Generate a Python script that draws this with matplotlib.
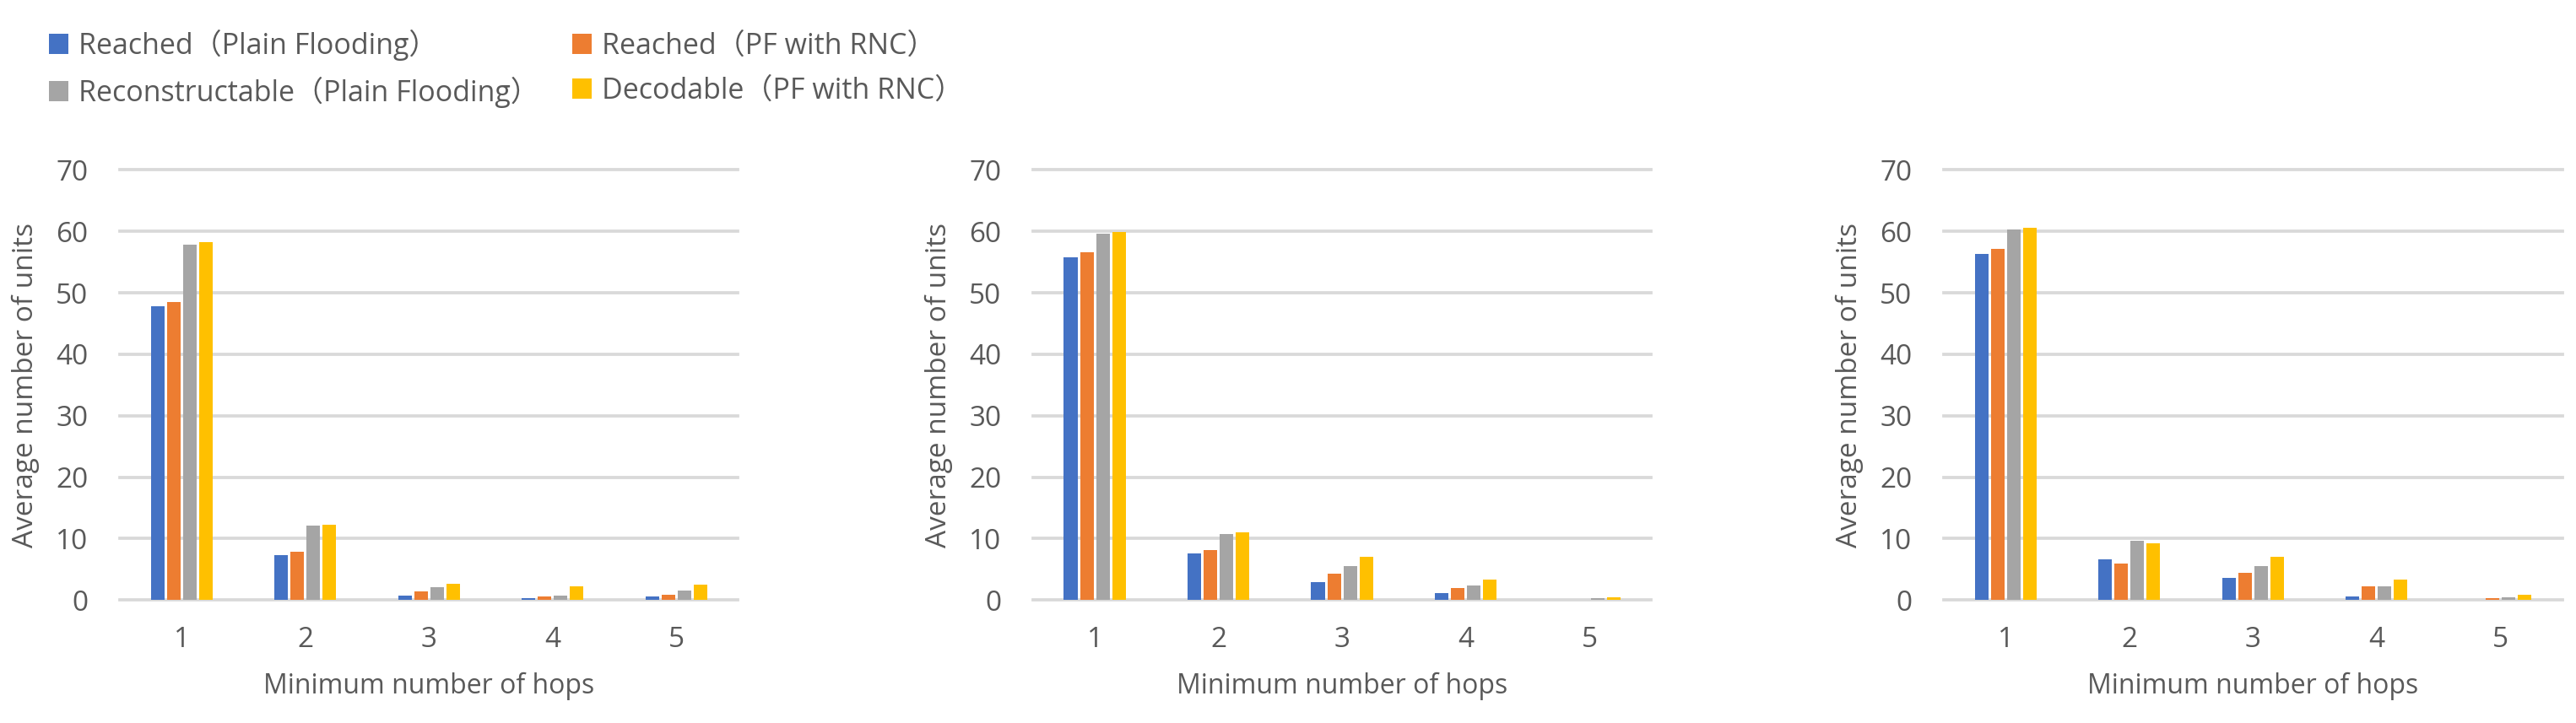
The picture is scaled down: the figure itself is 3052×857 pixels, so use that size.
import matplotlib
matplotlib.use("Agg")
import numpy as np
import matplotlib.pyplot as plt
from matplotlib.patches import Patch

plt.rcParams['font.family'] = ['Open Sans', 'Noto Sans CJK JP', 'DejaVu Sans']

# Data
hops = [1, 2, 3, 4, 5]
series_names = ["Reached（Plain Flooding）", "Reached（PF with RNC）",
                "Reconstructable（Plain Flooding）", "Decodable（PF with RNC）"]
colors = ["#4472C4", "#ED7D31", "#A5A5A5", "#FFC000"]

# panel 1
p1_reached_pf = [47.8, 7.3, 0.7, 0.35, 0.6]
p1_reached_rnc = [48.5, 7.9, 1.4, 0.6, 0.9]
p1_reconstructable = [57.9, 12.1, 2.1, 0.7, 1.6]
p1_decodable = [58.3, 12.3, 2.6, 2.25, 2.5]

# panel 2
p2_reached_pf = [55.8, 7.55, 2.95, 1.2, 0.0]
p2_reached_rnc = [56.6, 8.1, 4.3, 2.0, 0.0]
p2_reconstructable = [59.6, 10.7, 5.5, 2.4, 0.35]
p2_decodable = [59.9, 11.0, 7.1, 3.3, 0.5]

# panel 3
p3_reached_pf = [56.3, 6.6, 3.55, 0.65, 0.0]
p3_reached_rnc = [57.2, 6.0, 4.4, 2.3, 0.3]
p3_reconstructable = [60.3, 9.6, 5.5, 2.3, 0.5]
p3_decodable = [60.6, 9.3, 7.0, 3.3, 0.8]

panels = [
    [p1_reached_pf, p1_reached_rnc, p1_reconstructable, p1_decodable],
    [p2_reached_pf, p2_reached_rnc, p2_reconstructable, p2_decodable],
    [p3_reached_pf, p3_reached_rnc, p3_reconstructable, p3_decodable],
]

text_color = "#595959"
grid_color = "#D9D9D9"

fig = plt.figure(figsize=(30.52, 8.57), dpi=100)
lefts = [0.0465, 0.401, 0.7546]

x = np.arange(len(hops)) + 1
pitch = 0.13
width = 0.11

for left, data in zip(lefts, panels):
    ax = fig.add_axes([left, 0.170, 0.24, 0.595])
    for i, (vals, c) in enumerate(zip(data, colors)):
        ax.bar(x + (i - 1.5) * pitch, vals, width=width, color=c, zorder=3)
    ax.set_xlim(0.5, 5.5)
    ax.set_ylim(0, 70)
    ax.set_yticks(range(0, 71, 10))
    ax.set_xticks(x)
    ax.set_xticklabels([str(h) for h in hops])
    ax.grid(axis="y", color=grid_color, linewidth=2.7, zorder=0)
    for gl in ax.get_ygridlines():
        gl.set_clip_on(False)
    for s in ax.spines.values():
        s.set_visible(False)
    ax.tick_params(axis="both", length=0, labelsize=24, colors=text_color)
    ax.tick_params(axis="y", pad=27)
    ax.tick_params(axis="x", pad=22)
    ax.set_ylabel("Average number of units", fontsize=24, color=text_color, labelpad=14)
    ax.set_xlabel("Minimum number of hops", fontsize=23, color=text_color, labelpad=16)

handles = [Patch(facecolor=c, edgecolor="none") for c in colors]
order = [0, 2, 1, 3]
leg = fig.legend([handles[i] for i in order], [series_names[i] for i in order],
                 loc="upper left", bbox_to_anchor=(0.009, 0.995), ncol=2, frameon=False,
                 fontsize=24.5, handlelength=0.68, handleheight=0.68, handletextpad=0.35,
                 columnspacing=1.15, labelspacing=0.55)
for t in leg.get_texts():
    t.set_color(text_color)

fig.savefig("out.png", dpi=100)
